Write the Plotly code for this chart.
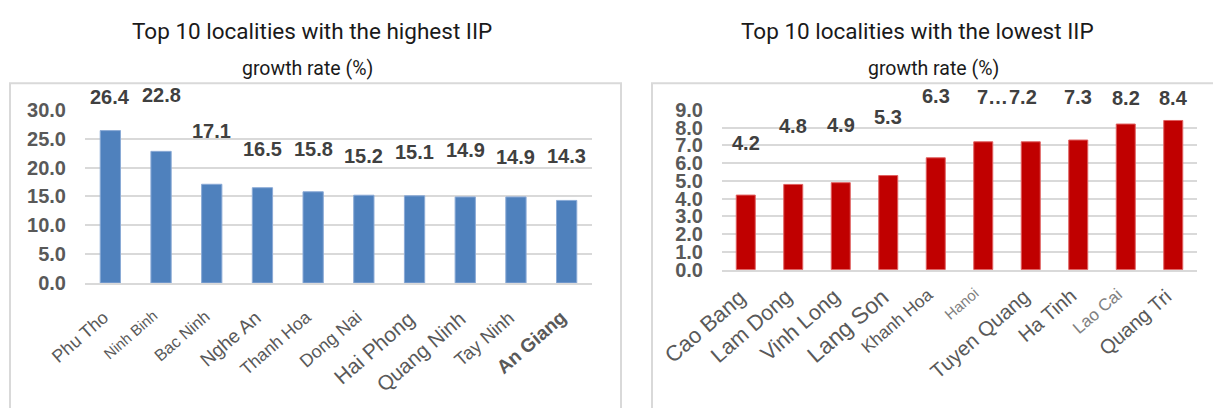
import plotly.graph_objects as go

W, H = 1221, 408
PAGE_OFF = 8  # default body margin of the html page

# ---------------- data ----------------
high_names = ["Phu Tho", "Ninh Binh", "Bac Ninh", "Nghe An", "Thanh Hoa",
              "Dong Nai", "Hai Phong", "Quang Ninh", "Tay Ninh", "An Giang"]
high_values = [26.4, 22.8, 17.1, 16.5, 15.8, 15.2, 15.1, 14.9, 14.9, 14.3]
high_ticks = [0, 5, 10, 15, 20, 25, 30]

low_names = ["Cao Bang", "Lam Dong", "Vinh Long", "Lang Son", "Khanh Hoa",
             "Hanoi", "Tuyen Quang", "Ha Tinh", "Lao Cai", "Quang Tri"]
low_values = [4.2, 4.8, 4.9, 5.3, 6.3, 7.2, 7.2, 7.3, 8.2, 8.4]
low_label_text = ["4.2", "4.8", "4.9", "5.3", "6.3", "7…", "7.2", "7.3", "8.2", "8.4"]
low_ticks = [0, 1, 2, 3, 4, 5, 6, 7, 8, 9]

left_title = "Top 10 localities with the highest IIP"
right_title = "Top 10 localities with the lowest IIP"
subtitle = "growth rate (%)"

# ---------------- styles ----------------
high_label_lift = [34, 56, 53, 39, 43, 39, 44, 47, 40, 44]   # px above bar top
low_label_lift = [52, 58, 58, 59, 62, 45, 45, 43, 26, 22]
low_label_dx = [0, 0, 0, 0, 0, 9, -8, 0, 0, 0]
high_xfont = [18, 15, 16.5, 19, 17.5, 18, 21, 20.5, 18.5, 19]
high_xbold = [False] * 9 + [True]
low_xfont = [22, 21.5, 21.5, 23, 17.5, 15, 20.5, 20, 17, 20]
low_xcolor = ["#595959"] * 5 + ["#808080", "#595959", "#595959", "#808080", "#595959"]

AX_FONT = "Liberation Sans, Arial, sans-serif"
TITLE_FONT = "Roboto, sans-serif"
GRID = "#d9d9d9"


def px_x(v):
    return (v - PAGE_OFF) / W


def px_y(v):
    return 1 - (v - PAGE_OFF) / H


fig = go.Figure()
fig.add_trace(go.Bar(x=high_names, y=high_values, xaxis="x", yaxis="y",
                     marker=dict(color="#4f81bd", line=dict(color="#8aaad6", width=1)),
                     hoverinfo="x+y"))
fig.add_trace(go.Bar(x=low_names, y=low_values, xaxis="x2", yaxis="y2",
                     marker=dict(color="#c00000", line=dict(color="#e06060", width=1)),
                     hoverinfo="x+y"))

yaxis_common = dict(showgrid=True, gridcolor=GRID, gridwidth=2, zeroline=False,
                    showline=False, ticks="", ticklabelstandoff=18,
                    tickfont=dict(family=AX_FONT, size=20, color="#595959", weight="bold"),
                    tickformat=".1f", fixedrange=True)

fig.update_layout(
    width=W, height=H, margin=dict(l=0, r=0, t=0, b=0),
    paper_bgcolor="white", plot_bgcolor="white", showlegend=False,
    bargap=0.6,
    xaxis=dict(domain=[px_x(85), px_x(592)], anchor="y", range=[-0.5, 9.5],
               showticklabels=False, showgrid=False, zeroline=False,
               showline=True, linecolor=GRID, linewidth=2, ticks=""),
    yaxis=dict(domain=[px_y(287), px_y(104)], anchor="x", range=[0, 30],
               tickvals=high_ticks, **yaxis_common),
    xaxis2=dict(domain=[px_x(722), px_x(1197)], anchor="y2", range=[-0.5, 9.5],
                showticklabels=False, showgrid=False, zeroline=False,
                showline=True, linecolor=GRID, linewidth=2, ticks=""),
    yaxis2=dict(domain=[px_y(273), px_y(104)], anchor="x2", range=[0, 9],
                tickvals=low_ticks, **yaxis_common),
)

ann = []
# data labels
for i, (n, v) in enumerate(zip(high_names, high_values)):
    ann.append(dict(x=n, y=v, xref="x", yref="y", text=f"{v:.1f}", showarrow=False,
                    yshift=high_label_lift[i], yanchor="middle",
                    font=dict(family=AX_FONT, size=20, color="#404040", weight="bold")))
for i, (n, v) in enumerate(zip(low_names, low_values)):
    ann.append(dict(x=n, y=v, xref="x2", yref="y2", text=low_label_text[i], showarrow=False,
                    yshift=low_label_lift[i], xshift=low_label_dx[i], yanchor="middle",
                    font=dict(family=AX_FONT, size=20, color="#404040", weight="bold")))

# rotated category labels
ANG = -41
for i, n in enumerate(high_names):
    fs = high_xfont[i]
    hb = 1.25 * fs + 2
    ann.append(dict(x=n, y=0, xref="x", yref="y", text=n, showarrow=False,
                    textangle=ANG, xanchor="right", yanchor="top",
                    xshift=-11 + 0.643 * hb, yshift=-21,
                    font=dict(family=AX_FONT, size=fs, color="#595959",
                              weight="bold" if high_xbold[i] else "normal")))
for i, n in enumerate(low_names):
    fs = low_xfont[i]
    hb = 1.25 * fs + 2
    ann.append(dict(x=n, y=0, xref="x2", yref="y2", text=n, showarrow=False,
                    textangle=ANG, xanchor="right", yanchor="top",
                    xshift=-12 + 0.643 * hb, yshift=-12,
                    font=dict(family=AX_FONT, size=fs, color=low_xcolor[i])))

# titles
for cx, t in ((312, left_title), (917, right_title)):
    ann.append(dict(x=px_x(cx), y=px_y(21), xref="paper", yref="paper", text=t,
                    showarrow=False, xanchor="center", yanchor="middle",
                    font=dict(family=TITLE_FONT, size=22.5, color="#1a1a1a")))
for cx in (307, 934):
    ann.append(dict(x=px_x(cx), y=px_y(60), xref="paper", yref="paper", text=subtitle,
                    showarrow=False, xanchor="center", yanchor="middle",
                    font=dict(family=TITLE_FONT, size=19.5, color="#1a1a1a")))

fig.update_layout(annotations=ann)

# panel borders
shapes = [
    dict(type="rect", xref="paper", yref="paper", x0=px_x(10), x1=px_x(621),
         y0=-0.05, y1=px_y(76), line=dict(color="#d9d9d9", width=2), layer="below"),
    dict(type="rect", xref="paper", yref="paper", x0=px_x(652), x1=1.05,
         y0=-0.05, y1=px_y(76), line=dict(color="#d9d9d9", width=2), layer="below"),
]
fig.update_layout(shapes=shapes)

fig.write_html("out.html")
